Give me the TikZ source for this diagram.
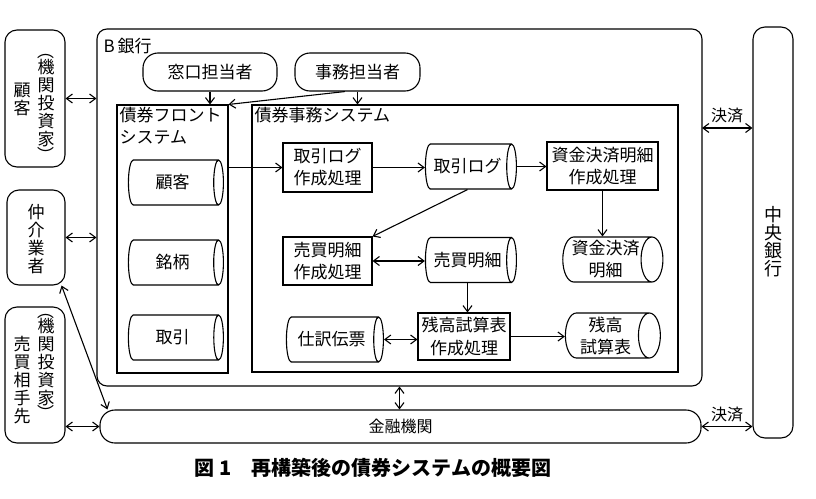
\documentclass[tikz,border=0pt]{standalone}
\usepackage{fontspec}
\setmainfont{Noto Sans CJK JP}
\usetikzlibrary{shapes.geometric,arrows.meta}
\tikzset{
  rbox/.style={draw,rounded corners=12pt,inner sep=0pt},
  pill/.style={draw,rounded corners=15pt,minimum height=38pt,inner sep=2pt},
  proc/.style={draw,minimum height=49pt,align=center,inner sep=1pt},
  db/.style={draw,cylinder,shape border rotate=0,aspect=0.55,minimum width=45pt,inner sep=1pt,align=center},
  sysbox/.style={draw,inner sep=0pt},
  vtxt/.style={align=center,font=\fontsize{17}{18}\selectfont,inner sep=0pt},
  paren/.style={rotate=-90,inner sep=0pt,font=\fontsize{17}{18}\selectfont},
  small/.style={font=\fontsize{16}{18}\selectfont}
}
\begin{document}
\begin{tikzpicture}[x=1pt,y=-1pt,line width=1.1pt,
    font=\fontsize{17}{22}\selectfont,
    >={Straight Barb[length=6pt,width=9pt]}]
\useasboundingbox (0,0) rectangle (816,498);

% outside
\node[rbox,minimum width=60pt,minimum height=137pt] (kokyaku) at (35,98.5) {};
\node[rbox,minimum width=58pt,minimum height=95pt] (chukai) at (36,237.5) {};
\node[rbox,minimum width=60pt,minimum height=136pt] (aite) at (35,375) {};
\node[vtxt] (kokyakut) at (22,99) {顧\\客};
\node[vtxt] (kokyakup) at (46,103) {機\\関\\投\\資\\家};
\node[paren] (kokyakul) at (46,51) {（};
\node[paren] (kokyakur) at (46,155) {）};
\node[vtxt] (chukait) at (36,239) {仲\\介\\業\\者};
\node[vtxt] (aitet) at (22,380) {売\\買\\相\\手\\先};
\node[vtxt] (aitep) at (46,362) {機\\関\\投\\資\\家};
\node[paren] (aitel) at (46,311) {（};
\node[paren] (aiter) at (46,413) {）};
\node[rbox,rounded corners=10pt,minimum width=605pt,minimum height=357pt] (bank) at (399.5,207.5) {};
\node[rbox,minimum width=40pt,minimum height=411pt] (cb) at (773,232.5) {};
\node[vtxt,font=\fontsize{18}{18}\selectfont] (cbt) at (773,242) {中\\央\\銀\\行};
\node[rbox,rounded corners=15pt,minimum width=601pt,minimum height=33pt,small] (kinyu) at (400.5,426.5) {金融機関};

% B bank
\node[anchor=west,inner sep=0pt] (bankt) at (103,46) {B\,銀行};
\node[pill,minimum width=134pt] (mado) at (210,72) {窓口担当者};
\node[pill,minimum width=125pt] (jimu) at (357.5,72) {事務担当者};
\node[sysbox,minimum width=111pt,minimum height=268pt] (front) at (172.5,239) {};
\node[anchor=north west,align=left,inner sep=2pt] (frontt) at (117,105) {債券フロント\\システム};
\node[db,minimum height=95pt] (cust) at (172.5,182.5) {顧客};
\node[db,minimum height=95pt] (brand) at (172.5,262.5) {銘柄};
\node[db,minimum height=95pt] (trade) at (172.5,337.5) {取引};
\node[sysbox,minimum width=426pt,minimum height=267pt] (back) at (465,238.5) {};
\node[anchor=north west,inner sep=2pt] (backt) at (252,105) {債券事務システム};

\node[proc,minimum width=89pt] (ptlog) at (327.5,167.5) {取引ログ\\作成処理};
\node[db,minimum height=91pt] (tlog) at (467.5,166.5) {取引ログ};
\node[proc,minimum width=111pt,minimum height=48pt] (pfsd) at (602.5,166) {資金決済明細\\作成処理};
\node[db,minimum height=95pt] (fsd) at (605.5,259.5) {資金決済\\明細};
\node[proc,minimum width=89pt,minimum height=48pt] (pbd) at (327.5,261) {売買明細\\作成処理};
\node[db,minimum height=91pt] (bd) at (467.5,260) {売買明細};
\node[db,minimum height=97pt] (jv) at (331.5,339.5) {仕訳伝票};
\node[proc,minimum width=92pt,minimum height=47pt] (ptb) at (464,336.5) {残高試算表\\作成処理};
\node[db,minimum height=95pt] (tb) at (605.5,335.5) {残高\\試算表};

\draw[->] (mado.south) -- (mado.south |- front.north);
\draw[->] (jimu.south) -- (jimu.south |- back.north);
\draw[->] (jimu.237) -- (front.north east);
\draw[->] (front.east |- ptlog) -- (ptlog.west);
\draw[->] (ptlog.east) -- (ptlog.east -| tlog.west);
\draw[->] (tlog.east) -- (tlog.east -| pfsd.west);
\draw[->] (pfsd.south) -- (pfsd.south |- fsd.north);
\draw[->] (tlog.south) -- (pbd.north east);
\draw[<->] (pbd.east) -- (pbd.east -| bd.west);
\draw[->] (bd.south) -- (bd.south |- ptb.north);
\draw[<->] (jv.east) -- (jv.east -| ptb.west);
\draw[->] (ptb.east) -- (ptb.east -| tb.west);

% connections
\draw[<->] (kokyaku.east) -- (kokyaku.east -| bank.west);
\draw[<->] (chukai.east) -- (chukai.east -| bank.west);
\draw[<->] (aite.east |- kinyu.west) -- (kinyu.west);
\draw[<->] ([xshift=-4pt]chukai.south east) -- ([xshift=8pt]kinyu.north west);
\draw[<->] (bank.south) -- (bank.south |- kinyu.north);
\coordinate (kessai) at (702,128);
\draw[<->] (kessai) -- (kessai -| cb.west) node[midway,above=1pt,small] (kessait) {決済};
\draw[<->] (kinyu.east) -- (kinyu.east -| cb.west) node[midway,above=1pt,small] (kessait2) {決済};

\node[font=\bfseries\fontsize{20}{24}\selectfont] (cap) at (373,468) {図 1\quad 再構築後の債券システムの概要図};
\end{tikzpicture}
\end{document}
